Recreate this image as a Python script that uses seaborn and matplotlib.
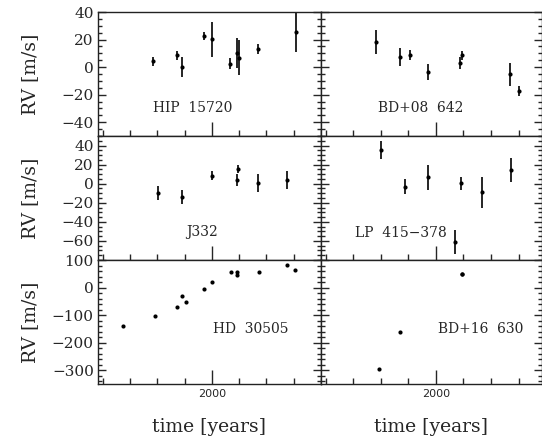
import seaborn as sns
import matplotlib.pyplot as plt
from matplotlib.ticker import MultipleLocator, FixedLocator

# radial velocity data
hip_t = [1997.84, 1998.71, 1998.89, 1999.71, 2000.00, 2000.68, 2000.92, 2000.98, 2001.70, 2003.07]
hip_rv = [4.1, 8.5, 0.0, 22.5, 20.1, 2.4, 10.4, 6.8, 13.1, 25.4]
hip_err = [3.6, 3.4, 7.5, 3.0, 12.7, 4.0, 10.7, 12.7, 3.6, 14.3]

bd08_t = [1997.84, 1998.71, 1999.05, 1999.71, 2000.89, 2000.96, 2002.70, 2003.02]
bd08_rv = [18.2, 7.3, 8.9, -3.6, 2.9, 8.5, -5.3, -17.5]
bd08_err = [8.5, 6.5, 3.6, 6.0, 4.5, 3.2, 8.2, 3.5]

j332_t = [1998.01, 1998.89, 2000.01, 2000.96, 2000.93, 2001.70, 2002.74]
j332_rv = [-9.7, -13.8, 8.3, 15.5, 3.8, 0.3, 3.8]
j332_err = [7.4, 7.0, 4.5, 4.0, 6.0, 9.5, 9.5]

lp_t = [1998.01, 1998.89, 1999.71, 2000.68, 2000.92, 2001.67, 2002.71]
lp_rv = [35.2, -3.1, 6.5, -61.4, 0.3, -9.0, 14.5]
lp_err = [9.5, 7.8, 13.1, 12.6, 6.9, 16.2, 12.3]

hd_t = [1996.75, 1997.92, 1998.71, 1998.89, 1999.06, 1999.71, 2000.01,
        2000.70, 2000.93, 2000.93, 2001.71, 2002.74, 2003.05]
hd_rv = [-141, -102, -72, -29, -53, -7, 21, 56, 56, 47, 56, 81, 63]

bd16_t = [1997.95, 1998.70, 2000.93, 2000.95]
bd16_rv = [-297, -163, 48, 50]

sns.set_style("ticks")
plt.rcParams['font.family'] = ['DejaVu Serif']
plt.rcParams['axes.unicode_minus'] = True

fig = plt.figure(figsize=(5.42, 4.43), dpi=100)
W, H = 542, 443
rows = [(12, 136), (136, 260), (260, 384)]
cols = [(98, 321, (1995.82, 2004.0)), (321, 541.5, (1995.83, 2003.83))]
ylims = [(-50, 40), (-80, 50), (-350, 100)]
ymajor = [[-40, -20, 0, 20, 40], [-60, -40, -20, 0, 20, 40], [-300, -200, -100, 0, 100]]
yminor = [5, 5, 20]

panels = [
    [(hip_t, hip_rv, hip_err, 'HIP  15720', (0.426, 0.226)),
     (bd08_t, bd08_rv, bd08_err, 'BD+08  642', (0.451, 0.226))],
    [(j332_t, j332_rv, j332_err, 'J332', (0.466, 0.228)),
     (lp_t, lp_rv, lp_err, 'LP  415\u2212378', (0.362, 0.22))],
    [(hd_t, hd_rv, None, 'HD  30505', (0.687, 0.444)),
     (bd16_t, bd16_rv, None, 'BD+16  630', (0.724, 0.441))],
]

for r, (top, bot) in enumerate(rows):
    for c, (left, right, xl) in enumerate(cols):
        ax = fig.add_axes([left / W, 1 - bot / H, (right - left) / W, (bot - top) / H])
        t, rv, err, name, pos = panels[r][c]
        if err is not None:
            ax.errorbar(t, rv, yerr=err, fmt='none', ecolor='black', elinewidth=1.2, capsize=0)
        sns.scatterplot(x=t, y=rv, ax=ax, color='black', s=9, linewidth=0, zorder=3)
        ax.text(pos[0], pos[1], name, transform=ax.transAxes, ha='center', va='center', fontsize=10)

        ax.set_xlim(*xl)
        ax.set_ylim(*ylims[r])
        ax.xaxis.set_major_locator(FixedLocator([2000]))
        ax.xaxis.set_minor_locator(MultipleLocator(1))
        ax.yaxis.set_major_locator(FixedLocator(ymajor[r]))
        ax.yaxis.set_minor_locator(MultipleLocator(yminor[r]))
        ax.tick_params(axis='x', which='major', direction='in', length=10, width=1, top=False)
        ax.tick_params(axis='x', which='minor', direction='in', length=4.5, width=1, top=False)
        ax.tick_params(axis='y', which='major', direction='in', length=6, width=1, left=True, right=True)
        ax.tick_params(axis='y', which='minor', direction='in', length=3, width=1, left=True, right=True)
        for s in ax.spines.values():
            s.set_linewidth(1)
            s.set_color('#222222')

        if r == 2:
            ax.set_xticklabels(['2000'], fontfamily='DejaVu Sans', fontsize=8)
            ax.set_xlabel('time [years]', fontsize=13.5, labelpad=14)
        else:
            ax.set_xticklabels([])
        if c == 0:
            ax.tick_params(axis='y', labelsize=11, pad=3)
            ax.set_ylabel('RV [m/s]', fontsize=13.5, va='center')
            ax.yaxis.set_label_coords(-0.305, 0.5)
        else:
            ax.set_yticklabels([])
        ax.set_ylabel(ax.get_ylabel())
        ax.set_xlabel(ax.get_xlabel())

plt.savefig('out.png', dpi=100)
